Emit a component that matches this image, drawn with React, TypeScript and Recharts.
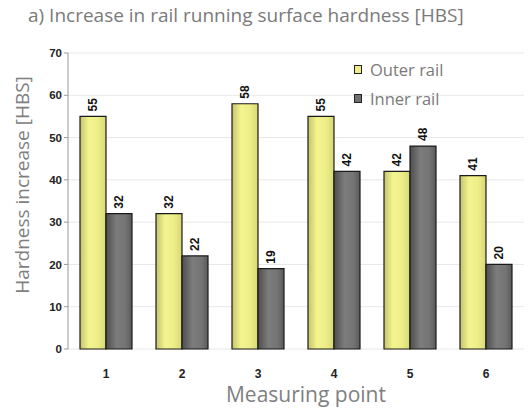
import React from "react";
import { BarChart, Bar, XAxis, YAxis, CartesianGrid, LabelList } from "recharts";

const points = ["1", "2", "3", "4", "5", "6"];
const outerRail = [55, 32, 58, 55, 42, 41];
const innerRail = [32, 22, 19, 42, 48, 20];
const yTicks = [0, 10, 20, 30, 40, 50, 60, 70];
const boundaryTicks = [0, 1, 2, 3, 4, 5, 6];
const seriesNames = ["Outer rail", "Inner rail"];
const seriesFills = ["#eeee88", "#707070"];

const data = points.map((p, i) => ({ point: p, outer: outerRail[i], inner: innerRail[i] }));

const TEXT_FONT = "'Open Sans', 'Noto Sans', sans-serif";
const TICK_FONT = "'Liberation Sans', Arial, sans-serif";

const RotLabel = (props: any) => {
  const { x, y, width, value } = props;
  const cx = x + width / 2;
  const ty = y - 5;
  return (
    <text
      x={cx}
      y={ty}
      transform={`rotate(-90 ${cx} ${ty})`}
      textAnchor="start"
      dominantBaseline="central"
      fontFamily={TICK_FONT}
      fontWeight="bold"
      fontSize={12}
      fill="#111"
    >
      {value}
    </text>
  );
};

const YLabel = (props: any) => {
  const vb = props.viewBox || {};
  const cx = 22;
  const cy = vb.y + vb.height / 2 - 16;
  return (
    <text
      x={cx}
      y={cy}
      transform={`rotate(-90 ${cx} ${cy})`}
      textAnchor="middle"
      dominantBaseline="central"
      fontFamily={TEXT_FONT}
      fontSize={19}
      fill="#808080"
    >
      Hardness increase [HBS]
    </text>
  );
};

const XLabel = (props: any) => {
  const vb = props.viewBox || {};
  return (
    <text
      x={vb.x + vb.width / 2 + 10}
      y={402}
      textAnchor="middle"
      fontFamily={TEXT_FONT}
      fontSize={21}
      fill="#808080"
    >
      Measuring point
    </text>
  );
};

export default function App() {
  return (
    <div style={{ position: "absolute", left: 0, top: 0, width: 528, height: 411, background: "#fff" }}>
      <div
        style={{
          position: "absolute",
          left: 28,
          top: 2,
          fontFamily: TEXT_FONT,
          fontSize: 19,
          color: "#7a7a7a",
          whiteSpace: "nowrap",
        }}
      >
        a) Increase in rail running surface hardness [HBS]
      </div>
      <BarChart
        width={528}
        height={411}
        data={data}
        margin={{ top: 53, right: 4, bottom: 0, left: 0 }}
        barCategoryGap={12}
        barGap={0}
      >
        <defs>
          <linearGradient id="gOuter" x1="0" y1="0" x2="1" y2="0">
            <stop offset="0%" stopColor="#c4c46a" />
            <stop offset="35%" stopColor="#f4f490" />
            <stop offset="70%" stopColor="#eeee88" />
            <stop offset="100%" stopColor="#d6d676" />
          </linearGradient>
          <linearGradient id="gInner" x1="0" y1="0" x2="1" y2="0">
            <stop offset="0%" stopColor="#4e4e4e" />
            <stop offset="40%" stopColor="#7c7c7c" />
            <stop offset="75%" stopColor="#747474" />
            <stop offset="100%" stopColor="#5a5a5a" />
          </linearGradient>
        </defs>
        <CartesianGrid vertical={false} stroke="#e8e8e8" />
        <XAxis
          dataKey="point"
          xAxisId="cat"
          height={62}
          axisLine={false}
          tickLine={false}
          tick={{ fontFamily: TICK_FONT, fontWeight: "bold", fontSize: 12, fill: "#222" }}
          tickMargin={14}
          label={<XLabel />}
        />
        <XAxis
          xAxisId="bnd"
          type="number"
          domain={[0, 6]}
          ticks={boundaryTicks}
          allowDataOverflow
          height={0}
          stroke="#999"
          tickSize={5}
          tick={false}
          orientation="bottom"
        />
        <XAxis
          xAxisId="top"
          type="number"
          domain={[0, 6]}
          allowDataOverflow
          height={0}
          stroke="#aaa"
          strokeWidth={1.5}
          tick={false}
          tickLine={false}
          orientation="top"
        />
        <YAxis
          width={68}
          domain={[0, 70]}
          ticks={yTicks}
          interval={0}
          stroke="#999"
          tickSize={4}
          tick={{ fontFamily: TICK_FONT, fontWeight: "bold", fontSize: 11.5, fill: "#222" }}
          label={<YLabel />}
        />
        <Bar dataKey="outer" name={seriesNames[0]} xAxisId="cat" fill="url(#gOuter)" stroke="#1a1a1a" strokeWidth={1.2} isAnimationActive={false}>
          <LabelList dataKey="outer" content={<RotLabel />} />
        </Bar>
        <Bar dataKey="inner" name={seriesNames[1]} xAxisId="cat" fill="url(#gInner)" stroke="#1a1a1a" strokeWidth={1.2} isAnimationActive={false}>
          <LabelList dataKey="inner" content={<RotLabel />} />
        </Bar>
      </BarChart>
      <div
        style={{
          position: "absolute",
          left: 354,
          top: 55,
          fontFamily: TEXT_FONT,
          fontSize: 16.5,
          color: "#7a7a7a",
        }}
      >
        {seriesNames.map((name, i) => (
          <div key={name} style={{ display: "flex", alignItems: "center", height: 29 }}>
            <span
              style={{
                display: "inline-block",
                width: 6,
                height: 7,
                background: seriesFills[i],
                border: "1.5px solid #222",
                marginRight: 8,
              }}
            />
            <span>{name}</span>
          </div>
        ))}
      </div>
    </div>
  );
}
